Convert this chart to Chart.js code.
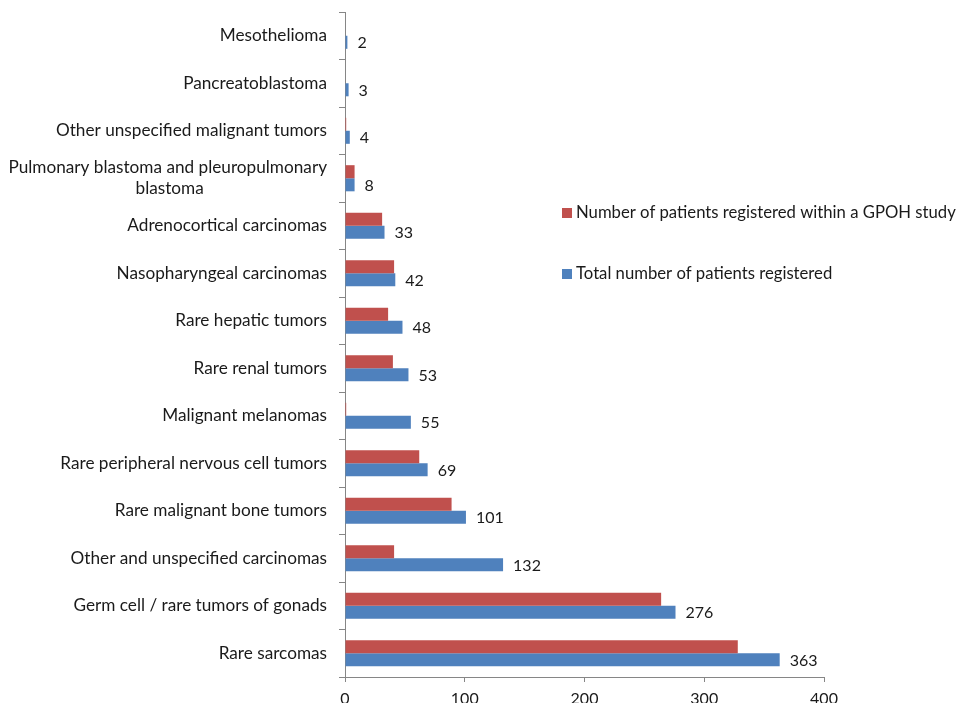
<!DOCTYPE html>
<html>
<head>
<meta charset="utf-8">
<script src="https://cdn.jsdelivr.net/npm/chart.js@4/dist/chart.umd.min.js"></script>
<style>
  html, body { margin: 0; padding: 0; background: #fff; }
  #wrap { width: 958px; height: 703px; position: relative; }
</style>
</head>
<body>
<div id="wrap"><canvas id="c" width="958" height="703"></canvas></div>
<script>
const categories = [
  ["Mesothelioma"],
  ["Pancreatoblastoma"],
  ["Other unspecified malignant tumors"],
  ["Pulmonary blastoma and pleuropulmonary", "blastoma"],
  ["Adrenocortical carcinomas"],
  ["Nasopharyngeal carcinomas"],
  ["Rare hepatic tumors"],
  ["Rare renal tumors"],
  ["Malignant melanomas"],
  ["Rare peripheral nervous cell tumors"],
  ["Rare malignant bone tumors"],
  ["Other and unspecified carcinomas"],
  ["Germ cell / rare tumors of gonads"],
  ["Rare sarcomas"]
];
const gpohStudy = [0, 0, 1, 8, 31, 41, 36, 40, 1, 62, 89, 41, 264, 328];
const totalRegistered = [2, 3, 4, 8, 33, 42, 48, 53, 55, 69, 101, 132, 276, 363];
const xTicks = [0, 100, 200, 300, 400];

const FONT = "Lato, 'Open Sans', sans-serif";
const LABEL_SIZE = 17.2;
const TEXT = '#1a1a1a';
const AXIS = '#868686';

// center shorter lines of a wrapped label under the longest line
const mctx = document.createElement('canvas').getContext('2d');
mctx.font = LABEL_SIZE + 'px ' + FONT;
function centeredLines(lines) {
  if (lines.length < 2) return lines[0];
  const maxW = Math.max(...lines.map(l => mctx.measureText(l).width));
  const sp = mctx.measureText('\u00a0').width;
  return lines.map(l => {
    const pad = Math.round((maxW - mctx.measureText(l).width) / 2 / sp);
    return l + '\u00a0'.repeat(Math.max(0, pad));
  });
}

const valueLabels = {
  id: 'valueLabels',
  afterDatasetsDraw(chart) {
    const ctx = chart.ctx;
    const meta = chart.getDatasetMeta(1);
    ctx.save();
    ctx.font = '16px ' + FONT;
    ctx.fillStyle = TEXT;
    ctx.textAlign = 'left';
    ctx.textBaseline = 'middle';
    meta.data.forEach((bar, i) => {
      ctx.fillText(String(totalRegistered[i]), bar.x + 10, bar.y + 1);
    });
    ctx.restore();
  }
};

const floatingLegend = {
  id: 'floatingLegend',
  afterDraw(chart) {
    const ctx = chart.ctx;
    ctx.save();
    ctx.font = '16.7px ' + FONT;
    ctx.textBaseline = 'middle';
    const ys = [213, 274];
    chart.data.datasets.forEach((ds, i) => {
      ctx.fillStyle = ds.backgroundColor;
      ctx.fillRect(562, ys[i] - 5, 10, 10);
      ctx.fillStyle = TEXT;
      ctx.fillText(ds.label, 576, ys[i]);
    });
    ctx.restore();
  }
};

new Chart(document.getElementById('c'), {
  type: 'bar',
  data: {
    labels: categories.map(centeredLines),
    datasets: [
      { label: 'Number of patients registered within a GPOH study', data: gpohStudy,
        backgroundColor: '#C0504D', categoryPercentage: 0.55, barPercentage: 1.0 },
      { label: 'Total number of patients registered', data: totalRegistered,
        backgroundColor: '#4F81BD', categoryPercentage: 0.55, barPercentage: 1.0 }
    ]
  },
  options: {
    indexAxis: 'y',
    responsive: false,
    animation: false,
    devicePixelRatio: 1,
    layout: { padding: { left: 0, right: 134, top: 12, bottom: 0 } },
    plugins: { legend: { display: false }, tooltip: { enabled: false } },
    scales: {
      y: {
        afterFit(s) { s.width = 345; s.paddingTop = 0; s.paddingBottom = 0; },
        grid: { display: true, drawOnChartArea: false, offset: true, tickLength: 6, color: AXIS },
        border: { color: AXIS, width: 1 },
        ticks: { font: { family: FONT, size: LABEL_SIZE }, color: TEXT, padding: 12, autoSkip: false }
      },
      x: {
        min: 0, max: 400,
        afterFit(s) { s.height = 26; },
        afterBuildTicks(s) { s.ticks = xTicks.map(v => ({ value: v })); },
        grid: { display: true, drawOnChartArea: false, tickLength: 5, color: AXIS },
        border: { color: AXIS, width: 1 },
        ticks: { font: { family: FONT, size: 16 }, color: TEXT, padding: 7 }
      }
    }
  },
  plugins: [valueLabels, floatingLegend]
});
</script>
</body>
</html>
